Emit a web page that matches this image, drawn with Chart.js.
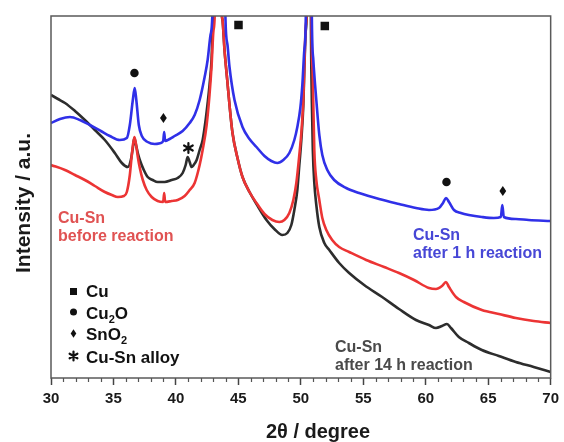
<!DOCTYPE html>
<html>
<head>
<meta charset="utf-8">
<script src="https://cdn.jsdelivr.net/npm/chart.js@4.4.1/dist/chart.umd.min.js"></script>
<style>
  body { margin: 0; background: #fff; }
  #wrap { width: 564px; height: 442px; }
</style>
</head>
<body>
<div id="wrap"><canvas id="xrd" width="564" height="442"></canvas></div>
<script>
// 2theta (degree) and intensity (a.u., stacked offsets)
const blueTheta = [30.00, 30.72, 31.52, 32.32, 33.11, 33.99, 34.71, 35.51, 36.07, 36.31, 36.55, 36.70, 36.83, 37.03, 37.27, 37.74, 38.30, 38.78, 38.98, 39.06, 39.14, 39.50, 39.90, 40.54, 41.10, 41.50, 41.90, 42.30, 42.54, 42.77, 42.93, 43.37, 43.97, 44.13, 44.29, 44.69, 45.33, 45.89, 46.45, 47.09, 47.64, 48.12, 48.60, 49.08, 49.48, 49.72, 49.96, 50.12, 50.28, 50.40, 50.64, 50.88, 51.00, 51.24, 51.48, 51.72, 52.12, 52.67, 53.63, 54.67, 56.27, 57.86, 59.22, 60.26, 61.06, 61.38, 61.62, 61.86, 62.26, 62.81, 63.45, 64.49, 65.45, 66.01, 66.13, 66.25, 67.21, 68.24, 70.00];
const blueInt = [255, 259, 261, 258, 253, 247, 242, 238, 240, 253, 278, 290, 278, 253, 242, 236, 234, 235, 237, 246, 237, 239, 242, 247, 255, 263, 278, 301, 318, 343, 368, 980, 358, 333, 311, 278, 251, 239, 231, 222, 217, 215, 218, 225, 238, 251, 270, 293, 328, 363, 980, 363, 318, 278, 243, 223, 208, 198, 190, 185, 179, 174, 170, 168, 170, 175, 180, 176, 168, 165, 163, 161, 160, 161, 173, 161, 159, 158, 157];

const redTheta = [30.00, 31.12, 31.92, 32.71, 33.51, 34.31, 34.87, 35.35, 35.83, 36.07, 36.31, 36.47, 36.67, 36.79, 36.95, 37.11, 37.35, 37.66, 38.06, 38.54, 38.98, 39.06, 39.14, 39.66, 40.14, 40.70, 41.10, 41.50, 41.90, 42.14, 42.46, 42.69, 42.85, 43.01, 43.13, 43.37, 43.65, 43.73, 43.89, 44.13, 44.29, 44.53, 44.93, 45.33, 45.89, 46.45, 47.09, 47.72, 48.28, 48.68, 49.08, 49.40, 49.64, 49.88, 50.04, 50.20, 50.28, 50.40, 50.48, 50.64, 50.84, 50.96, 51.08, 51.24, 51.48, 51.72, 52.04, 52.51, 53.07, 53.87, 55.23, 56.67, 57.86, 59.06, 60.26, 60.82, 61.30, 61.62, 61.86, 62.42, 63.05, 64.49, 65.85, 67.21, 68.64, 70.00];
const redInt = [213, 208, 203, 198, 192, 186, 183, 181, 182, 186, 203, 223, 241, 235, 221, 210, 198, 188, 181, 177, 176, 185, 176, 177, 178, 182, 188, 195, 213, 228, 253, 283, 311, 348, 373, 980, 373, 358, 328, 295, 273, 245, 220, 201, 186, 175, 164, 158, 156, 158, 165, 178, 195, 223, 245, 278, 311, 353, 373, 980, 373, 298, 228, 198, 178, 160, 148, 138, 131, 126, 118, 111, 105, 98, 90, 89, 92, 96, 91, 81, 76, 68, 64, 60, 57, 55];

const blackTheta = [30.00, 30.56, 31.12, 31.92, 32.71, 33.51, 34.31, 35.11, 35.67, 36.15, 36.39, 36.55, 36.67, 36.79, 36.95, 37.11, 37.43, 37.74, 38.14, 38.54, 39.10, 39.66, 40.14, 40.54, 40.78, 40.94, 41.10, 41.26, 41.42, 41.66, 41.90, 42.14, 42.38, 42.54, 42.69, 42.85, 42.97, 43.05, 43.37, 43.65, 43.73, 43.89, 44.13, 44.29, 44.53, 44.93, 45.33, 45.89, 46.45, 47.25, 47.88, 48.52, 48.92, 49.24, 49.48, 49.72, 49.88, 50.04, 50.20, 50.28, 50.40, 50.48, 50.64, 50.80, 50.88, 50.96, 51.08, 51.24, 51.48, 51.88, 52.28, 53.07, 53.87, 55.07, 56.51, 57.86, 59.22, 60.26, 60.82, 61.30, 61.70, 62.02, 62.65, 63.45, 64.49, 65.85, 67.21, 68.64, 70.00];
const blackInt = [283, 279, 275, 267, 258, 248, 238, 225, 215, 211, 218, 230, 240, 234, 225, 218, 208, 201, 198, 196, 196, 198, 200, 205, 213, 221, 216, 211, 213, 218, 228, 238, 258, 275, 293, 318, 358, 373, 980, 373, 358, 328, 295, 273, 245, 220, 201, 186, 174, 158, 149, 143, 145, 153, 168, 188, 213, 238, 273, 308, 348, 373, 980, 373, 278, 228, 195, 173, 151, 135, 128, 115, 105, 93, 81, 69, 58, 53, 50, 52, 54, 50, 41, 35, 28, 22, 16, 11, 6];

// phase markers above the reflections
const phaseTheta = [36.68, 39.00, 41.00, 45.01, 51.92, 61.66, 66.17];
const phaseLevel = [305, 260, 230, 353, 352, 196, 187];
const phaseType = ['circle', 'diamond', 'star', 'square', 'square', 'circle', 'diamond'];

const xTicks = [30, 35, 40, 45, 50, 55, 60, 65, 70];

const FONT = "Arial, 'Liberation Sans', sans-serif";

function toPoints(xs, ys) {
    return xs.map((x, i) => ({ x: x, y: ys[i] }));
}

function drawMarker(ctx, type, x, y, s) {
    ctx.save();
    ctx.fillStyle = '#111';
    ctx.strokeStyle = '#111';
    ctx.beginPath();
    if (type === 'square') {
        ctx.fillRect(x - s / 2, y - s / 2, s, s);
    } else if (type === 'circle') {
        ctx.arc(x, y, s / 2, 0, Math.PI * 2);
        ctx.fill();
    } else if (type === 'diamond') {
        ctx.moveTo(x, y - s * 0.6);
        ctx.lineTo(x + s * 0.4, y);
        ctx.lineTo(x, y + s * 0.6);
        ctx.lineTo(x - s * 0.4, y);
        ctx.closePath();
        ctx.fill();
    } else if (type === 'star') {
        ctx.lineWidth = 2.2;
        ctx.lineCap = 'round';
        for (let i = 0; i < 3; i++) {
            const a = Math.PI / 2 + i * Math.PI / 3;
            ctx.moveTo(x + Math.cos(a) * s / 2, y + Math.sin(a) * s / 2);
            ctx.lineTo(x - Math.cos(a) * s / 2, y - Math.sin(a) * s / 2);
        }
        ctx.stroke();
    }
    ctx.restore();
}

// text with optional subscripts: parts = [[text, isSub], ...]
function drawChem(ctx, parts, x, y, size) {
    let cx = x;
    parts.forEach(p => {
        ctx.font = 'bold ' + (p[1] ? Math.round(size * 0.62) : size) + 'px ' + FONT;
        ctx.fillText(p[0], cx, p[1] ? y + size * 0.25 : y);
        cx += ctx.measureText(p[0]).width;
    });
}

const decorPlugin = {
    id: 'decor',
    afterDatasetsDraw(chart) {
        const ctx = chart.ctx;
        const a = chart.chartArea;
        const xs = chart.scales.x;
        const ys = chart.scales.y;

        ctx.save();
        // frame
        ctx.strokeStyle = '#5a5a5a';
        ctx.lineWidth = 1.5;
        ctx.strokeRect(a.left, a.top, a.right - a.left, a.bottom - a.top);

        // minor ticks
        ctx.strokeStyle = '#555';
        ctx.lineWidth = 1.2;
        ctx.beginPath();
        for (let v = 31; v < 70; v++) {
            if (v % 5 === 0) continue;
            const px = Math.round(xs.getPixelForValue(v)) + 0.5;
            ctx.moveTo(px, a.bottom);
            ctx.lineTo(px, a.bottom + 4);
        }
        ctx.stroke();

        // phase markers
        phaseTheta.forEach((t, i) => {
            drawMarker(ctx, phaseType[i], xs.getPixelForValue(t), ys.getPixelForValue(phaseLevel[i]), phaseType[i] === 'star' ? 10 : 8.5);
        });

        // curve labels
        ctx.textAlign = 'left';
        ctx.textBaseline = 'alphabetic';
        ctx.font = 'bold 16px ' + FONT;
        ctx.fillStyle = '#e05252';
        ctx.fillText('Cu-Sn', 58, 223);
        ctx.fillText('before reaction', 58, 241);
        ctx.fillStyle = '#4747d6';
        ctx.fillText('Cu-Sn', 413, 240);
        ctx.fillText('after 1 h reaction', 413, 258);
        ctx.fillStyle = '#4a4a4a';
        ctx.fillText('Cu-Sn', 335, 352);
        ctx.fillText('after 14 h reaction', 335, 370);

        // phase key
        drawMarker(ctx, 'square', 73.5, 291.5, 7);
        drawMarker(ctx, 'circle', 73.5, 312, 7);
        drawMarker(ctx, 'diamond', 73.5, 333.5, 7);
        drawMarker(ctx, 'star', 73.5, 356, 9);
        ctx.fillStyle = '#111';
        drawChem(ctx, [['Cu', false]], 86, 297, 17);
        drawChem(ctx, [['Cu', false], ['2', true], ['O', false]], 86, 318.5, 17);
        drawChem(ctx, [['SnO', false], ['2', true]], 86, 340, 17);
        drawChem(ctx, [['Cu-Sn alloy', false]], 86, 362.5, 17);

        // axis titles
        ctx.fillStyle = '#1a1a1a';
        ctx.textAlign = 'center';
        ctx.font = 'bold 20px ' + FONT;
        ctx.fillText('2\u03b8 / degree', 318, 438);
        ctx.translate(30, 203);
        ctx.rotate(-Math.PI / 2);
        ctx.font = 'bold 21px ' + FONT;
        ctx.fillText('Intensity / a.u.', 0, 0);
        ctx.restore();
    }
};

const ctx = document.getElementById('xrd').getContext('2d');
const xrdChart = new Chart(ctx, {
    type: 'line',
    data: {
        datasets: [{
            label: 'Cu-Sn before reaction',
            data: toPoints(redTheta, redInt),
            borderColor: 'rgb(236, 52, 52)',
            borderWidth: 2.6,
            order: 2
        }, {
            label: 'Cu-Sn after 14 h reaction',
            data: toPoints(blackTheta, blackInt),
            borderColor: 'rgb(45, 45, 45)',
            borderWidth: 2.6,
            order: 3
        }, {
            label: 'Cu-Sn after 1 h reaction',
            data: toPoints(blueTheta, blueInt),
            borderColor: 'rgb(48, 48, 232)',
            borderWidth: 2.6,
            order: 1
        }]
    },
    options: {
        responsive: false,
        animation: false,
        elements: {
            point: { radius: 0 },
            line: { cubicInterpolationMode: 'monotone', fill: false }
        },
        layout: { padding: { left: 51, top: 16, right: 12, bottom: 0 } },
        plugins: {
            legend: { display: false },
            tooltip: { enabled: false }
        },
        scales: {
            x: {
                type: 'linear',
                min: 30,
                max: 70,
                afterBuildTicks: (scale) => {
                    scale.ticks = xTicks.map(v => ({ value: v }));
                },
                afterFit: (scale) => { scale.height = 64; },
                ticks: {
                    padding: 5,
                    color: '#1a1a1a',
                    font: { family: FONT, size: 15, weight: 'bold' },
                    maxRotation: 0
                },
                grid: {
                    drawOnChartArea: false,
                    tickLength: 7,
                    tickColor: '#444',
                    tickWidth: 1.5
                },
                border: { display: false }
            },
            y: {
                display: false,
                min: 0,
                max: 362
            }
        }
    },
    plugins: [decorPlugin]
});
</script>
</body>
</html>
